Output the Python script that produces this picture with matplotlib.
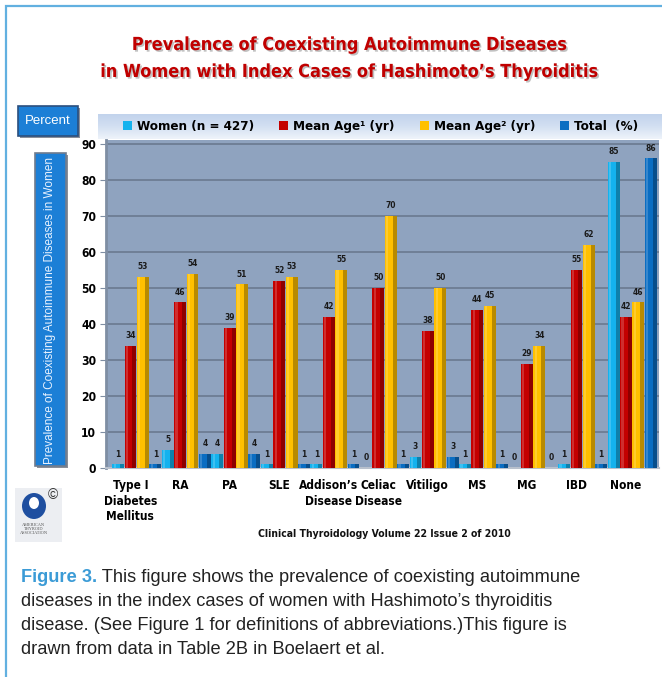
import os
import matplotlib
matplotlib.use("Agg")
import matplotlib.pyplot as plt
import matplotlib.patheffects as pe
import matplotlib.colors as mcolors
from matplotlib.patches import Rectangle, Ellipse
from matplotlib.font_manager import FontProperties
from matplotlib import font_manager
import numpy as np

# ---------------- data ----------------
categories = ["Type I\nDiabetes\nMellitus", "RA", "PA", "SLE", "Addison’s\nDisease",
              "Celiac\nDisease", "Vitiligo", "MS", "MG", "IBD", "None"]
women = [1, 5, 4, 1, 1, 0, 3, 1, 0, 1, 85]
mean_age1 = [34, 46, 39, 52, 42, 50, 38, 44, 29, 55, 42]
mean_age2 = [53, 54, 51, 53, 55, 70, 50, 45, 34, 62, 46]
total = [1, 4, 4, 1, 1, 1, 3, 1, 0, 1, 86]
series_names = ["Women (n = 427)", "Mean Age¹ (yr)", "Mean Age² (yr)", "Total  (%)"]
y_ticks = [0, 10, 20, 30, 40, 50, 60, 70, 80, 90]

title_lines = ["Prevalence of Coexisting Autoimmune Diseases",
               "in Women with Index Cases of Hashimoto’s Thyroiditis"]
y_label = "Prevalence of Coexisting Autoimmune Diseases in Women"
percent_label = "Percent"
source_text = "Clinical Thyroidology Volume 22 Issue 2 of 2010"
caption_bold = "Figure 3."
caption_lines = [" This figure shows the prevalence of coexisting autoimmune",
                 "diseases in the index cases of women with Hashimoto’s thyroiditis",
                 "disease. (See Figure 1 for definitions of abbreviations.)This figure is",
                 "drawn from data in Table 2B in Boelaert et al."]

# ---------------- style ----------------
series_colors = ["#14b2ee", "#c40000", "#ffc000", "#0a6dc2"]
W, H = 662, 677
fig = plt.figure(figsize=(W / 100, H / 100), dpi=100)
fig.patch.set_facecolor("white")
renderer = fig.canvas.get_renderer()
SF = ["Liberation Sans", "DejaVu Sans"]


def find_narrow_bold():
    best = None
    for f in font_manager.fontManager.ttflist:
        base = os.path.basename(f.fname).lower()
        nm = (f.name + " " + base).lower()
        if "italic" in nm or "oblique" in nm:
            continue
        if not ("narrow" in nm or "condensed" in nm):
            continue
        w = f.weight
        wv = 700 if w == "bold" else (w if isinstance(w, (int, float)) else 400)
        if wv < 600:
            continue
        score = 0
        if "liberation" in nm or "arial" in nm:
            score = 10
        elif "noto" in nm and "sans" in nm and "mono" not in nm:
            if "extracondensed" in base or "extra condensed" in nm:
                score = 6
            elif "semicondensed" in base or "semi condensed" in nm:
                score = 7
            else:
                score = 8
        else:
            score = 1
        if wv == 700:
            score += 0.5
        if best is None or score > best[0]:
            best = (score, f.fname)
    return best[1] if best else None


nb_path = find_narrow_bold()
if nb_path:
    NB = FontProperties(fname=nb_path)
else:
    NB = FontProperties(family=SF, weight="bold")


def fit(s, fp, target_px, base=10.0):
    t = fig.text(0, 0, s, fontproperties=fp, fontsize=base)
    w = t.get_window_extent(renderer).width
    t.remove()
    return base * target_px / w


def nbp(size):
    p = NB.copy()
    p.set_size(size)
    return p


def fx(x):
    return x / W


def fy(y):
    return 1 - y / H


def box(x0, y0, x1, y1):
    return [fx(x0), fy(y1), (x1 - x0) / W, (y1 - y0) / H]


def shade(c, f):
    r, g, b = mcolors.to_rgb(c)
    if f < 1:
        return (r * f, g * f, b * f)
    f = f - 1
    return (r + (1 - r) * f, g + (1 - g) * f, b + (1 - b) * f)


title_fs = fit(title_lines[0], NB, 433)
legend_fs = fit(series_names[0], NB, 118)
xlab_fs = fit("Addison’s", NB, 59)
ytick_fs = fit("90", NB, 15)
val_fs = fit("53", NB, 10.5)
src_fs = fit(source_text, NB, 250)

# outer border
fig.add_artist(Rectangle((fx(6), -0.1), 1.2, fy(6) + 0.1, transform=fig.transFigure,
                         fill=False, edgecolor="#62b0e0", lw=1.6))

# title
for i, line in enumerate(title_lines):
    fig.text(fx(350), fy(45 + 27 * i), line, ha="center", va="center", color="#c00000",
             fontproperties=nbp(title_fs),
             path_effects=[pe.withSimplePatchShadow(offset=(1.2, -1.2), shadow_rgbFace="#777777", alpha=0.45)])

# legend band
bax = fig.add_axes(box(98, 114, 662, 139))
grad = np.linspace(0, 1, 50).reshape(-1, 1)
cmap = mcolors.LinearSegmentedColormap.from_list("band", ["#c2d3ec", "#d3e0f2", "#eef3fa"])
bax.imshow(grad, aspect="auto", cmap=cmap, extent=[0, 1, 0, 1])
bax.axis("off")

# main axes
ax = fig.add_axes(box(106, 140, 659, 468))
ax.set_facecolor("#8fa3bf")
n = len(categories)
x = np.arange(n)
offsets = [-0.375, -0.125, 0.125, 0.375]
bw = 0.24
series = [women, mean_age1, mean_age2, total]
handles = []
for vals, off, col in zip(series, offsets, series_colors):
    bars = ax.bar(x + off, vals, width=bw, color=col, edgecolor="none", zorder=3)
    ax.bar(x + off + bw * 0.33, vals, width=bw * 0.34, color=shade(col, 0.72), edgecolor="none", zorder=3.1)
    ax.bar(x + off - bw * 0.3, vals, width=bw * 0.18, color=shade(col, 1.18), edgecolor="none", zorder=3.1)
    handles.append(bars)
    for xi, v in zip(x + off, vals):
        ax.text(xi, v + 1.6, str(v), ha="center", va="bottom", fontproperties=nbp(val_fs),
                color="#1a1a1a", zorder=5)

ax.set_xlim(-0.62, n - 0.5 + 0.04)
ax.set_ylim(0, 91.1)
ax.set_yticks(y_ticks)
ax.yaxis.grid(True, color="#6d7d93", lw=1.3, zorder=0)
ax.set_axisbelow(True)
for s in ["top", "right"]:
    ax.spines[s].set_visible(False)
ax.spines["left"].set_color("#7f8ea3")
ax.spines["left"].set_linewidth(2)
ax.spines["bottom"].set_color("#b8c0cc")
ax.spines["bottom"].set_linewidth(1.5)
ax.tick_params(axis="y", length=4, color="#7f8ea3", pad=3)
for lbl in ax.get_yticklabels():
    lbl.set_fontproperties(nbp(ytick_fs))
ax.set_xticks(x - 0.13)
ax.set_xticklabels(categories, fontproperties=nbp(xlab_fs), linespacing=1.25)
ax.tick_params(axis="x", length=0, pad=8)

# legend
em = legend_fs * 100 / 72
fig.legend(handles, series_names, loc="center left", bbox_to_anchor=(fx(123), fy(126.5)),
           ncol=4, frameon=False, prop=nbp(legend_fs),
           handlelength=9 / em, handleheight=9 / em, handletextpad=5 / em, columnspacing=25 / em,
           borderaxespad=0, borderpad=0)

# "Percent" box
fig.add_artist(Rectangle((fx(20), fy(138)), 60 / W, 30 / H, transform=fig.transFigure,
                         facecolor="#8a8f99", edgecolor="none"))
fig.add_artist(Rectangle((fx(18), fy(136)), 60 / W, 30 / H, transform=fig.transFigure,
                         facecolor="#1c7fd6", edgecolor="#2b4f7e", lw=1.2))
fig.text(fx(48), fy(121), percent_label, ha="center", va="center", color="white", fontsize=9.5, family=SF)

# vertical label box
fig.add_artist(Rectangle((fx(37), fy(468)), 31 / W, 313 / H, transform=fig.transFigure,
                         facecolor="#8a8f99", edgecolor="none"))
fig.add_artist(Rectangle((fx(35), fy(466)), 31 / W, 313 / H, transform=fig.transFigure,
                         facecolor="#1c7fd6", edgecolor="#6f7c8e", lw=1.2))
fig.text(fx(50.5), fy(310), y_label, ha="center", va="center", rotation=90, color="#e8f2ff",
         fontsize=8.5, family=SF)

# logo
fig.add_artist(Rectangle((fx(15), fy(542)), 47 / W, 54 / H, transform=fig.transFigure,
                         facecolor="#eceef2", edgecolor="none"))
fig.add_artist(Ellipse((fx(34), fy(506)), 24 / W, 26 / H, transform=fig.transFigure,
                       facecolor="#1f4fa0", edgecolor="none"))
fig.add_artist(Ellipse((fx(34), fy(503)), 10 / W, 12 / H, transform=fig.transFigure,
                       facecolor="white", edgecolor="none"))
fig.text(fx(53), fy(495), "©", ha="center", va="center", fontsize=10, color="#333333", family=SF)
fig.text(fx(34), fy(529), "AMERICAN\nTHYROID\nASSOCIATION", ha="center", va="center",
         fontsize=3.2, color="#555555", family=["Liberation Serif", "DejaVu Serif"], linespacing=1.1)

# source
fig.text(fx(384), fy(534), source_text, ha="center", va="center",
         fontproperties=nbp(src_fs), color="#111111")

# caption
probe = fig.text(0, 0, caption_lines[1], fontsize=13, family=SF)
wpx = probe.get_window_extent(renderer).width
probe.remove()
csize = 13 * 532 / wpx
tb = fig.text(fx(21), fy(578), caption_bold, ha="left", va="center", fontsize=csize,
              fontweight="bold", family=SF, color="#3b9bd6")
bb = tb.get_window_extent(renderer)
fig.text(bb.x1 / W, fy(578), caption_lines[0], ha="left", va="center", fontsize=csize,
         family=SF, color="#222222")
for i, line in enumerate(caption_lines[1:]):
    fig.text(fx(21), fy(602 + 24 * i), line, ha="left", va="center", fontsize=csize,
             family=SF, color="#222222")

fig.savefig("out.png", dpi=100)
